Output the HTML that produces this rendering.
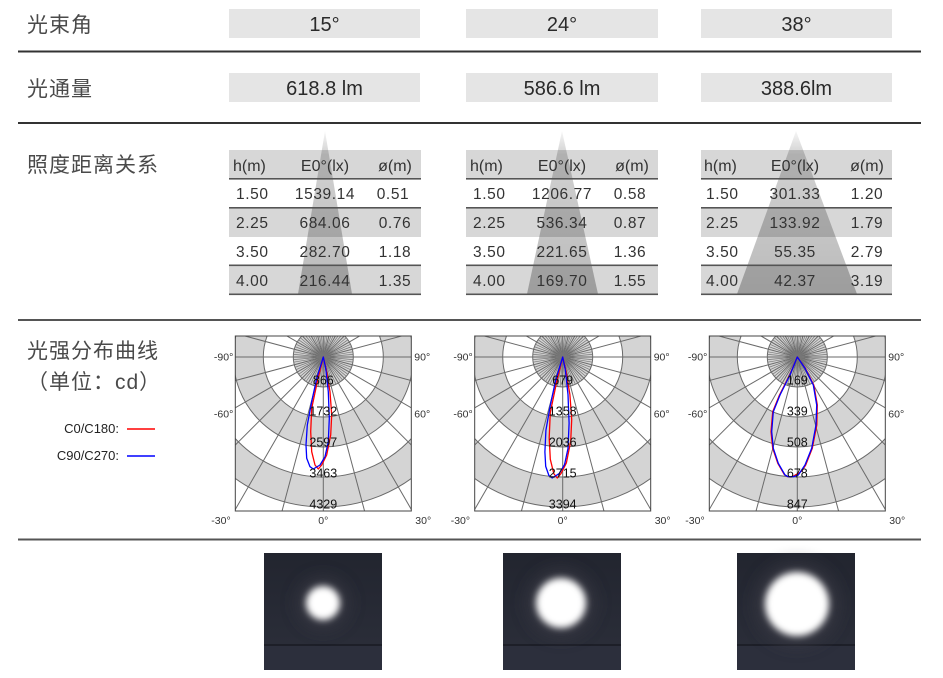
<!DOCTYPE html>
<html><head><meta charset="utf-8"><style>
html,body{margin:0;padding:0;background:#fff;}
svg{display:block;}
.cjk{font-family:"Liberation Sans","Noto Sans CJK SC",sans-serif;fill:#4a4a4a;font-size:21px;letter-spacing:1px;}
.top{font-family:"Liberation Sans",sans-serif;fill:#2a2a2a;font-size:20px;text-anchor:middle;}
.tb{font-family:"Liberation Sans",sans-serif;fill:#333;font-size:15.5px;letter-spacing:0.6px;}
.th{font-family:"Liberation Sans",sans-serif;fill:#333;font-size:16px;}
.ax{font-family:"Liberation Sans",sans-serif;fill:#333;font-size:10.5px;}
.rv{font-family:"Liberation Sans",sans-serif;fill:#111;font-size:12.5px;text-anchor:middle;}
.lg{font-family:"Liberation Sans",sans-serif;fill:#222;font-size:13px;text-anchor:end;}
</style></head><body>
<svg width="943" height="678" viewBox="0 0 943 678" xmlns="http://www.w3.org/2000/svg">
<defs>
  <linearGradient id="tri" x1="0" y1="130" x2="0" y2="295" gradientUnits="userSpaceOnUse">
    <stop offset="0" stop-color="#000" stop-opacity="0.03"/>
    <stop offset="0.15" stop-color="#000" stop-opacity="0.18"/>
    <stop offset="1" stop-color="#000" stop-opacity="0.27"/>
  </linearGradient>
  <clipPath id="box"><rect x="-88" y="-21" width="176" height="175"/></clipPath>
  <g id="grid">
    <rect x="-88" y="-21" width="176" height="175" fill="#fff"/>
    <circle r="150" fill="#d4d4d4" stroke="#6a6a6a" stroke-width="1"/>
    <circle r="120" fill="#fff" stroke="#6a6a6a" stroke-width="1"/>
    <circle r="90" fill="#d4d4d4" stroke="#6a6a6a" stroke-width="1"/>
    <circle r="60" fill="#fff" stroke="#6a6a6a" stroke-width="1"/>
    <circle r="30" fill="#d4d4d4" stroke="#6a6a6a" stroke-width="1"/>
    <g stroke="#6a6a6a" stroke-width="1">
      <line x1="0" y1="-260" x2="0" y2="260"/>
      <line x1="0" y1="-260" x2="0" y2="260" transform="rotate(15)"/>
      <line x1="0" y1="-260" x2="0" y2="260" transform="rotate(30)"/>
      <line x1="0" y1="-260" x2="0" y2="260" transform="rotate(45)"/>
      <line x1="0" y1="-260" x2="0" y2="260" transform="rotate(60)"/>
      <line x1="0" y1="-260" x2="0" y2="260" transform="rotate(75)"/>
      <line x1="0" y1="-260" x2="0" y2="260" transform="rotate(90)"/>
      <line x1="0" y1="-260" x2="0" y2="260" transform="rotate(105)"/>
      <line x1="0" y1="-260" x2="0" y2="260" transform="rotate(120)"/>
      <line x1="0" y1="-260" x2="0" y2="260" transform="rotate(135)"/>
      <line x1="0" y1="-260" x2="0" y2="260" transform="rotate(150)"/>
      <line x1="0" y1="-260" x2="0" y2="260" transform="rotate(165)"/>
    </g>
    <g stroke="#777" stroke-width="0.7">
      <line x1="0" y1="-30" x2="0" y2="30" transform="rotate(5)"/>
      <line x1="0" y1="-30" x2="0" y2="30" transform="rotate(10)"/>
      <line x1="0" y1="-30" x2="0" y2="30" transform="rotate(20)"/>
      <line x1="0" y1="-30" x2="0" y2="30" transform="rotate(25)"/>
      <line x1="0" y1="-30" x2="0" y2="30" transform="rotate(35)"/>
      <line x1="0" y1="-30" x2="0" y2="30" transform="rotate(40)"/>
      <line x1="0" y1="-30" x2="0" y2="30" transform="rotate(50)"/>
      <line x1="0" y1="-30" x2="0" y2="30" transform="rotate(55)"/>
      <line x1="0" y1="-30" x2="0" y2="30" transform="rotate(65)"/>
      <line x1="0" y1="-30" x2="0" y2="30" transform="rotate(70)"/>
      <line x1="0" y1="-30" x2="0" y2="30" transform="rotate(80)"/>
      <line x1="0" y1="-30" x2="0" y2="30" transform="rotate(85)"/>
      <line x1="0" y1="-30" x2="0" y2="30" transform="rotate(95)"/>
      <line x1="0" y1="-30" x2="0" y2="30" transform="rotate(100)"/>
      <line x1="0" y1="-30" x2="0" y2="30" transform="rotate(110)"/>
      <line x1="0" y1="-30" x2="0" y2="30" transform="rotate(115)"/>
      <line x1="0" y1="-30" x2="0" y2="30" transform="rotate(125)"/>
      <line x1="0" y1="-30" x2="0" y2="30" transform="rotate(130)"/>
      <line x1="0" y1="-30" x2="0" y2="30" transform="rotate(140)"/>
      <line x1="0" y1="-30" x2="0" y2="30" transform="rotate(145)"/>
      <line x1="0" y1="-30" x2="0" y2="30" transform="rotate(155)"/>
      <line x1="0" y1="-30" x2="0" y2="30" transform="rotate(160)"/>
      <line x1="0" y1="-30" x2="0" y2="30" transform="rotate(170)"/>
      <line x1="0" y1="-30" x2="0" y2="30" transform="rotate(175)"/>
    </g>
  </g>
  <linearGradient id="pbg" x1="0" y1="0" x2="0" y2="1">
    <stop offset="0" stop-color="#22252f"/>
    <stop offset="0.5" stop-color="#272a35"/>
    <stop offset="0.78" stop-color="#2a2d38"/>
    <stop offset="1" stop-color="#2a2d38"/>
  </linearGradient>
  <filter id="blur" x="-50%" y="-50%" width="200%" height="200%">
    <feGaussianBlur stdDeviation="3.5"/>
  </filter>
  <filter id="blur2" x="-50%" y="-50%" width="200%" height="200%">
    <feGaussianBlur stdDeviation="8"/>
  </filter>
</defs>

<!-- separators -->
<g fill="#333">
  <rect x="18" y="50.5" width="903" height="2"/>
  <rect x="18" y="122" width="903" height="2"/>
  <rect x="18" y="319" width="903" height="2" fill="#555"/>
  <rect x="18" y="538.5" width="903" height="2" fill="#555"/>
</g>

<!-- left labels -->
<text class="cjk" x="27" y="32">光束角</text>
<text class="cjk" x="27" y="96">光通量</text>
<text class="cjk" x="27" y="172">照度距离关系</text>
<text class="cjk" x="27" y="358">光强分布曲线</text>
<text class="cjk" x="27" y="389" letter-spacing="0">（单位：cd）</text>

<!-- legend -->
<text class="lg" x="119" y="433">C0/C180:</text>
<line x1="127" y1="429" x2="155" y2="429" stroke="#f00" stroke-width="1.4"/>
<text class="lg" x="119" y="460">C90/C270:</text>
<line x1="127" y1="456" x2="155" y2="456" stroke="#00f" stroke-width="1.4"/>

<!-- top boxes -->
<g fill="#e5e5e5">
  <rect x="229" y="9" width="191" height="29"/>
  <rect x="466" y="9" width="192" height="29"/>
  <rect x="701" y="9" width="191" height="29"/>
  <rect x="229" y="73" width="191" height="29"/>
  <rect x="466" y="73" width="192" height="29"/>
  <rect x="701" y="73" width="191" height="29"/>
</g>
<text class="top" x="324.5" y="31">15°</text>
<text class="top" x="562" y="31">24°</text>
<text class="top" x="796.5" y="31">38°</text>
<text class="top" x="324.5" y="95">618.8 lm</text>
<text class="top" x="562" y="95">586.6 lm</text>
<text class="top" x="796.5" y="95">388.6lm</text>

<!-- tables backgrounds -->
<g fill="#d7d7d7">
  <rect x="229" y="150" width="192" height="29"/>
  <rect x="229" y="208" width="192" height="29"/>
  <rect x="229" y="266" width="192" height="28.5"/>
  <rect x="466" y="150" width="192" height="29"/>
  <rect x="466" y="208" width="192" height="29"/>
  <rect x="466" y="266" width="192" height="28.5"/>
  <rect x="701" y="150" width="191" height="29"/>
  <rect x="701" y="208" width="191" height="29"/>
  <rect x="701" y="266" width="191" height="28.5"/>
</g>
<!-- cones -->
<polygon points="325,131 352,294 298,294" fill="url(#tri)"/>
<polygon points="562,131 598,294 527,294" fill="url(#tri)"/>
<polygon points="796,131 857,294 737,294" fill="url(#tri)"/>
<!-- row lines -->
<g fill="#555">
  <rect x="229" y="178" width="192" height="1.6"/>
  <rect x="229" y="207" width="192" height="1.6"/>
  <rect x="229" y="264.5" width="192" height="1.6"/>
  <rect x="229" y="293.5" width="192" height="1.6"/>
  <rect x="466" y="178" width="192" height="1.6"/>
  <rect x="466" y="207" width="192" height="1.6"/>
  <rect x="466" y="264.5" width="192" height="1.6"/>
  <rect x="466" y="293.5" width="192" height="1.6"/>
  <rect x="701" y="178" width="191" height="1.6"/>
  <rect x="701" y="207" width="191" height="1.6"/>
  <rect x="701" y="264.5" width="191" height="1.6"/>
  <rect x="701" y="293.5" width="191" height="1.6"/>
</g>

<!-- table 1 -->
<g>
  <text class="th" x="233" y="171">h(m)</text>
  <text class="th" x="325" y="171" text-anchor="middle">E0°(lx)</text>
  <text class="th" x="395" y="171" text-anchor="middle">ø(m)</text>
  <text class="tb" x="236" y="199">1.50</text><text class="tb" x="325" y="199" text-anchor="middle">1539.14</text><text class="tb" x="393" y="199" text-anchor="middle">0.51</text>
  <text class="tb" x="236" y="228">2.25</text><text class="tb" x="325" y="228" text-anchor="middle">684.06</text><text class="tb" x="395" y="228" text-anchor="middle">0.76</text>
  <text class="tb" x="236" y="257">3.50</text><text class="tb" x="325" y="257" text-anchor="middle">282.70</text><text class="tb" x="395" y="257" text-anchor="middle">1.18</text>
  <text class="tb" x="236" y="286">4.00</text><text class="tb" x="325" y="286" text-anchor="middle">216.44</text><text class="tb" x="395" y="286" text-anchor="middle">1.35</text>
</g>
<!-- table 2 -->
<g>
  <text class="th" x="470" y="171">h(m)</text>
  <text class="th" x="562" y="171" text-anchor="middle">E0°(lx)</text>
  <text class="th" x="632" y="171" text-anchor="middle">ø(m)</text>
  <text class="tb" x="473" y="199">1.50</text><text class="tb" x="562" y="199" text-anchor="middle">1206.77</text><text class="tb" x="630" y="199" text-anchor="middle">0.58</text>
  <text class="tb" x="473" y="228">2.25</text><text class="tb" x="562" y="228" text-anchor="middle">536.34</text><text class="tb" x="630" y="228" text-anchor="middle">0.87</text>
  <text class="tb" x="473" y="257">3.50</text><text class="tb" x="562" y="257" text-anchor="middle">221.65</text><text class="tb" x="630" y="257" text-anchor="middle">1.36</text>
  <text class="tb" x="473" y="286">4.00</text><text class="tb" x="562" y="286" text-anchor="middle">169.70</text><text class="tb" x="630" y="286" text-anchor="middle">1.55</text>
</g>
<!-- table 3 -->
<g>
  <text class="th" x="704" y="171">h(m)</text>
  <text class="th" x="795" y="171" text-anchor="middle">E0°(lx)</text>
  <text class="th" x="867" y="171" text-anchor="middle">ø(m)</text>
  <text class="tb" x="706" y="199">1.50</text><text class="tb" x="795" y="199" text-anchor="middle">301.33</text><text class="tb" x="867" y="199" text-anchor="middle">1.20</text>
  <text class="tb" x="706" y="228">2.25</text><text class="tb" x="795" y="228" text-anchor="middle">133.92</text><text class="tb" x="867" y="228" text-anchor="middle">1.79</text>
  <text class="tb" x="706" y="257">3.50</text><text class="tb" x="795" y="257" text-anchor="middle">55.35</text><text class="tb" x="867" y="257" text-anchor="middle">2.79</text>
  <text class="tb" x="706" y="286">4.00</text><text class="tb" x="795" y="286" text-anchor="middle">42.37</text><text class="tb" x="867" y="286" text-anchor="middle">3.19</text>
</g>

<!-- polar chart 1 -->
<g transform="translate(323.3,357)">
  <g clip-path="url(#box)">
    <use href="#grid"/>
    <path d="M0,0 L-6,24.7 L-11.6,51.3 L-12.6,74.7 L-11.6,94.7 L-8.3,108 L-5,112 L-1.6,108 L3.4,98 L7.4,78 L8.4,58 L6.7,34.7 L2.7,11.3 Z" fill="none" stroke="#f00" stroke-width="1.3" stroke-linejoin="round"/>
    <path d="M0,0 L-6.6,21.3 L-11.6,44.7 L-16,68 L-17.3,88 L-16.6,101.3 L-13.3,109.7 L-10,112 L-3.3,108 L1.7,99.7 L5,84.7 L6,61.3 L5,34.7 L2.4,11.3 Z" fill="none" stroke="#00f" stroke-width="1.3" stroke-linejoin="round"/>
    <text class="rv" x="0" y="27.5">866</text>
    <text class="rv" x="0" y="58.5">1732</text>
    <text class="rv" x="0" y="89.5">2597</text>
    <text class="rv" x="0" y="120.5">3463</text>
    <text class="rv" x="0" y="151.5">4329</text>
  </g>
  <rect x="-88" y="-21" width="176" height="175" fill="none" stroke="#444" stroke-width="1"/>
  <text class="ax" x="-90" y="3.5" text-anchor="end">-90°</text>
  <text class="ax" x="91" y="3.5">90°</text>
  <text class="ax" x="-90" y="60.5" text-anchor="end">-60°</text>
  <text class="ax" x="91" y="60.5">60°</text>
  <text class="ax" x="-112" y="167">-30°</text>
  <text class="ax" x="0" y="167" text-anchor="middle">0°</text>
  <text class="ax" x="92" y="167">30°</text>
</g>

<!-- polar chart 2 -->
<g transform="translate(562.7,357)">
  <g clip-path="url(#box)">
    <use href="#grid"/>
    <path d="M0,0 L-6.4,26.7 L-12.4,55.4 L-13.5,80.7 L-12.4,102.3 L-8.9,116.6 L-5.4,121 L-1.7,116.6 L3.7,105.8 L8,84.2 L9,62.6 L7.2,37.5 L2.9,12.2 Z" fill="none" stroke="#f00" stroke-width="1.3" stroke-linejoin="round"/>
    <path d="M0,0 L-7,23 L-12.4,48.3 L-16.8,73.4 L-17.8,95 L-17,109.4 L-13.8,118.5 L-10.5,121 L-3.5,116.6 L1.8,107.7 L5.3,91.5 L6.4,66.2 L5.3,37.5 L2.5,12.2 Z" fill="none" stroke="#00f" stroke-width="1.3" stroke-linejoin="round"/>
    <text class="rv" x="0" y="27.5">679</text>
    <text class="rv" x="0" y="58.5">1358</text>
    <text class="rv" x="0" y="89.5">2036</text>
    <text class="rv" x="0" y="120.5">2715</text>
    <text class="rv" x="0" y="151.5">3394</text>
  </g>
  <rect x="-88" y="-21" width="176" height="175" fill="none" stroke="#444" stroke-width="1"/>
  <text class="ax" x="-90" y="3.5" text-anchor="end">-90°</text>
  <text class="ax" x="91" y="3.5">90°</text>
  <text class="ax" x="-90" y="60.5" text-anchor="end">-60°</text>
  <text class="ax" x="91" y="60.5">60°</text>
  <text class="ax" x="-112" y="167">-30°</text>
  <text class="ax" x="0" y="167" text-anchor="middle">0°</text>
  <text class="ax" x="92" y="167">30°</text>
</g>

<!-- polar chart 3 -->
<g transform="translate(797.3,357)">
  <g clip-path="url(#box)">
    <use href="#grid"/>
    <path d="M0,0 L-7.6,18 L-17.8,38 L-24.6,54.7 L-26.3,74.7 L-24.6,91.3 L-19.5,106.3 L-13,117.5 L-9.5,119.7 L-4.5,119.5 L0,117 L4.5,114 L8.4,108 L15,91.3 L19.5,68 L20,48 L16.5,28 L8,11.3 Z" fill="none" stroke="#f00" stroke-width="1.3" stroke-linejoin="round"/>
    <path d="M0,0 L-7.3,18 L-17.3,38 L-24,54.7 L-25.6,74.7 L-24,91.3 L-19,106.3 L-12.3,118 L-9,119.7 L-4,119.7 L1,118 L7.7,108 L14.4,91.3 L18.7,68 L19.4,48 L16,28 L7.7,11.3 Z" fill="none" stroke="#00f" stroke-width="1.3" stroke-linejoin="round"/>
    <text class="rv" x="0" y="27.5">169</text>
    <text class="rv" x="0" y="58.5">339</text>
    <text class="rv" x="0" y="89.5">508</text>
    <text class="rv" x="0" y="120.5">678</text>
    <text class="rv" x="0" y="151.5">847</text>
  </g>
  <rect x="-88" y="-21" width="176" height="175" fill="none" stroke="#444" stroke-width="1"/>
  <text class="ax" x="-90" y="3.5" text-anchor="end">-90°</text>
  <text class="ax" x="91" y="3.5">90°</text>
  <text class="ax" x="-90" y="60.5" text-anchor="end">-60°</text>
  <text class="ax" x="91" y="60.5">60°</text>
  <text class="ax" x="-112" y="167">-30°</text>
  <text class="ax" x="0" y="167" text-anchor="middle">0°</text>
  <text class="ax" x="92" y="167">30°</text>
</g>

<!-- photos -->
<g>
  <rect x="264" y="553" width="118" height="117" fill="url(#pbg)"/>
  <rect x="264" y="645" width="118" height="25" fill="#2c2f3c"/>
  <rect x="264" y="644" width="118" height="2" fill="#1d1f28"/>
  <circle cx="323" cy="603" r="26" fill="#3a3b44" filter="url(#blur2)" opacity="0.7"/>
  <circle cx="323" cy="603" r="17" fill="#fff" filter="url(#blur)"/>

  <rect x="503" y="553" width="118" height="117" fill="url(#pbg)"/>
  <rect x="503" y="645" width="118" height="25" fill="#2c2f3c"/>
  <rect x="503" y="644" width="118" height="2" fill="#1d1f28"/>
  <circle cx="561" cy="603" r="34" fill="#3a3b44" filter="url(#blur2)" opacity="0.7"/>
  <circle cx="561" cy="603" r="25" fill="#fff" filter="url(#blur)"/>

  <rect x="737" y="553" width="118" height="117" fill="url(#pbg)"/>
  <rect x="737" y="645" width="118" height="25" fill="#2c2f3c"/>
  <rect x="737" y="644" width="118" height="2" fill="#1d1f28"/>
  <circle cx="797" cy="604" r="42" fill="#3a3b44" filter="url(#blur2)" opacity="0.7"/>
  <circle cx="797" cy="604" r="32" fill="#fff" filter="url(#blur)"/>
</g>
</svg>
</body></html>
